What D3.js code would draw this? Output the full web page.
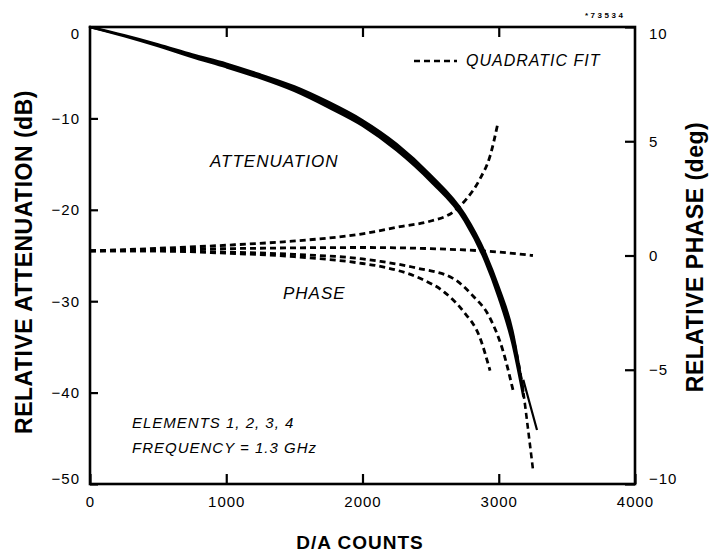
<!DOCTYPE html>
<html><head><meta charset="utf-8">
<script src="https://cdn.jsdelivr.net/npm/d3@7"></script>
<style>
body{margin:0;background:#fff}
svg{display:block}
text{font-family:"Liberation Sans",Arial,sans-serif;fill:#000}
</style>
</head><body>
<svg id="chart" width="709" height="555"></svg>
<script>
// Axis ticks
const xTicks = [0, 1000, 2000, 3000, 4000];
const attenTicks = [0, -10, -20, -30, -40, -50];
const phaseTicks = [10, 5, 0, -5, -10];

// Relative attenuation (dB) vs D/A counts, elements 1-4 (upper and lower edge of the trace bundle)
const attenCounts = [0, 250, 500, 750, 1000, 1250, 1500, 1750, 2000, 2250, 2500, 2750, 2900, 3000, 3100, 3180];
const attenUpper = [0, -0.9, -1.9, -3.0, -4.0, -5.2, -6.5, -8.2, -10.2, -12.8, -16.2, -20.5, -24.7, -28.5, -33.2, -39.8];
const attenLower = [0, -1.0, -2.1, -3.3, -4.4, -5.6, -7.0, -8.8, -10.8, -13.5, -16.9, -21.2, -25.6, -29.6, -34.6, -40.4];
// Trace that runs on past the bundle
const attenTailCounts = [3180, 3215, 3281];
const attenTail = [-38.6, -40.5, -44.1];
// Quadratic fit of attenuation beyond the data
const attenFitCounts = [3100, 3180, 3215, 3251];
const attenFit = [-33.6, -39.9, -44.0, -48.4];

// Relative phase (deg) vs D/A counts, quadratic fits
const phaseUpCounts = [0, 440, 1000, 1420, 2000, 2275, 2495, 2664, 2767, 2862, 2936, 2994];
const phaseUp = [0.2, 0.3, 0.45, 0.6, 0.95, 1.26, 1.5, 1.9, 2.5, 3.35, 4.35, 5.8];
const phaseFlatCounts = [0, 1000, 2000, 2500, 3000, 3251];
const phaseFlat = [0.2, 0.3, 0.35, 0.3, 0.15, 0.0];
const phaseLow1Counts = [0, 500, 1000, 1500, 2000, 2132, 2422, 2600, 2738, 2862, 2936];
const phaseLow1 = [0.2, 0.2, 0.1, -0.05, -0.35, -0.48, -1.0, -1.6, -2.43, -3.6, -5.04];
const phaseLow2Counts = [0, 500, 1000, 1500, 2000, 2132, 2400, 2664, 2800, 2936, 3031, 3105];
const phaseLow2 = [0.2, 0.2, 0.15, 0.05, -0.15, -0.26, -0.55, -1.0, -1.7, -2.74, -4.17, -5.9];

const svg = d3.select("#chart");
const L = 90, R = 635, T = 27, B = 484;

const x = d3.scaleLinear().domain([0, 4000]).range([L, R]);
const yA = d3.scaleLinear().domain([-50, 0]).range([B, T]);
const yP = d3.scaleLinear().domain([-10, 10]).range([B, T]);

const zip = (xs, ys) => xs.map((c, i) => [c, ys[i]]);
const lineA = d3.line().x(d => x(d[0])).y(d => yA(d[1])).curve(d3.curveMonotoneX);
const lineP = d3.line().x(d => x(d[0])).y(d => yP(d[1])).curve(d3.curveMonotoneX);

const dash = "6,4";

// Attenuation bundle
const band = attenCounts.map((c, i) => [c, attenUpper[i], attenLower[i]]);
svg.append("path")
  .attr("d", d3.area().x(d => x(d[0])).y0(d => yA(d[1])).y1(d => yA(d[2])).curve(d3.curveMonotoneX)(band))
  .attr("fill", "#000");
[attenUpper, attenLower].forEach(s => {
  svg.append("path").attr("d", lineA(zip(attenCounts, s)))
    .attr("fill", "none").attr("stroke", "#000").attr("stroke-width", 2.4).attr("stroke-linecap", "round");
});
svg.append("path").attr("d", lineA(zip(attenTailCounts, attenTail)))
  .attr("fill", "none").attr("stroke", "#000").attr("stroke-width", 2.2);
svg.append("path").attr("d", lineA(zip(attenFitCounts, attenFit)))
  .attr("fill", "none").attr("stroke", "#000").attr("stroke-width", 2.6).attr("stroke-dasharray", dash);

// Phase fits
[[phaseUpCounts, phaseUp], [phaseFlatCounts, phaseFlat], [phaseLow1Counts, phaseLow1], [phaseLow2Counts, phaseLow2]]
  .forEach(([cs, vs]) => {
    svg.append("path").attr("d", lineP(zip(cs, vs)))
      .attr("fill", "none").attr("stroke", "#000").attr("stroke-width", 2.8).attr("stroke-dasharray", dash);
  });

// Axes (ticks point into the plot)
const tickFont = g => g.selectAll("text").attr("font-size", 15).attr("letter-spacing", 1).style("font-family", '"Liberation Sans",Arial,sans-serif');
const clean = g => { g.select(".domain").remove(); g.selectAll("line").attr("stroke", "#000").attr("stroke-width", 2.2); };
// end labels sit slightly inside the frame corners
const nudge = (lo, hi) => g => g.selectAll(".tick text")
  .attr("dy", d => d === hi ? "0.75em" : d === lo ? "-0.05em" : "0.32em");

svg.append("g").attr("transform", `translate(0,${B})`)
  .call(d3.axisBottom(x).tickValues(xTicks).tickFormat(d3.format("d")).tickSizeInner(-10).tickSizeOuter(0).tickPadding(12))
  .call(clean).call(tickFont);
svg.append("g").attr("transform", `translate(0,${T})`)
  .call(d3.axisTop(x).tickValues([1000, 2000, 3000]).tickFormat("").tickSizeInner(-10).tickSizeOuter(0))
  .call(clean);
svg.append("g").attr("transform", `translate(${L},0)`)
  .call(d3.axisLeft(yA).tickValues(attenTicks).tickFormat(d3.format("d")).tickSizeInner(-8).tickSizeOuter(0).tickPadding(10))
  .call(clean).call(tickFont).call(nudge(-50, 0));
svg.append("g").attr("transform", `translate(${R},0)`)
  .call(d3.axisRight(yP).tickValues(phaseTicks).tickFormat(d3.format("d")).tickSizeInner(-10).tickSizeOuter(0).tickPadding(14))
  .call(clean).call(tickFont).call(nudge(-10, 10));

// Frame
svg.append("rect").attr("x", L).attr("y", T).attr("width", R - L).attr("height", B - T)
  .attr("fill", "none").attr("stroke", "#000").attr("stroke-width", 2.6);

// Axis titles
svg.append("text").attr("x", 360).attr("y", 549).attr("text-anchor", "middle")
  .attr("font-size", 19).attr("font-weight", "bold").attr("letter-spacing", 1).text("D/A COUNTS");
svg.append("text").attr("transform", "translate(32,262) rotate(-90)").attr("text-anchor", "middle")
  .attr("font-size", 23).attr("font-weight", "bold").attr("letter-spacing", 0.5).text("RELATIVE ATTENUATION (dB)");
svg.append("text").attr("transform", "translate(703,257) rotate(-90)").attr("text-anchor", "middle")
  .attr("font-size", 23).attr("font-weight", "bold").attr("letter-spacing", 0.5).text("RELATIVE PHASE (deg)");

// Annotations
const note = (tx, ty, s, size) => svg.append("text").attr("x", tx).attr("y", ty)
  .attr("font-size", size).attr("font-style", "italic").attr("letter-spacing", 1).text(s);
note(210, 167, "ATTENUATION", 17);
note(283, 299, "PHASE", 17);
note(132, 428, "ELEMENTS 1, 2, 3, 4", 15);
note(132, 453, "FREQUENCY = 1.3 GHz", 15);
note(466, 66, "QUADRATIC FIT", 16);
svg.append("line").attr("x1", 414).attr("x2", 457).attr("y1", 61).attr("y2", 61)
  .attr("stroke", "#000").attr("stroke-width", 2.6).attr("stroke-dasharray", dash);

// Figure number
svg.append("text").attr("x", 585).attr("y", 18).attr("font-size", 8).attr("font-weight", "bold")
  .attr("letter-spacing", 2.5).text("*73534");
</script>
</body></html>
